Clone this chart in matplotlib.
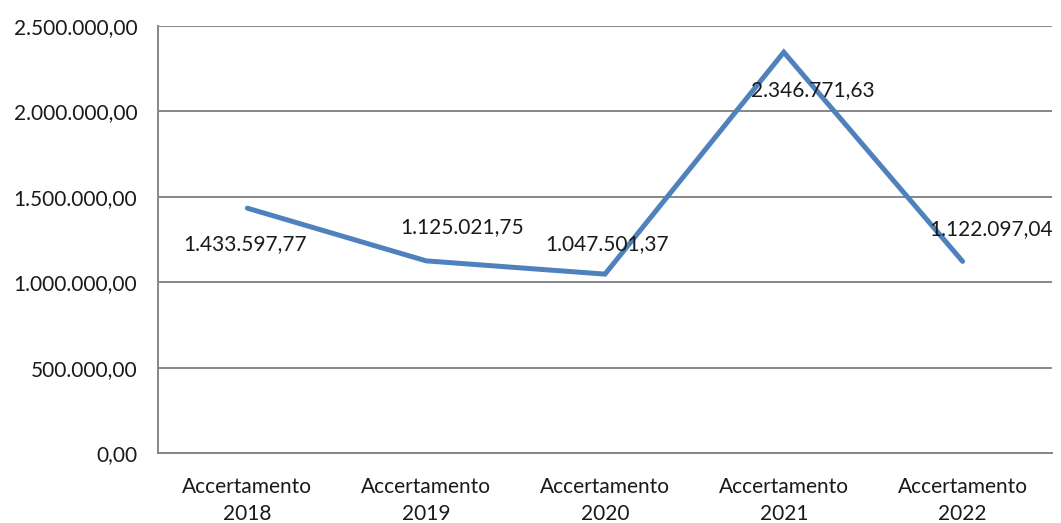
import matplotlib.pyplot as plt
from matplotlib.ticker import FuncFormatter

categories = ['Accertamento\n2018', 'Accertamento\n2019', 'Accertamento\n2020',
              'Accertamento\n2021', 'Accertamento\n2022']
values = [1433597.77, 1125021.75, 1047501.37, 2346771.63, 1122097.04]
# where each value label sits relative to its point (pixels)
label_offsets = [(-2, -36), (36, 34), (2, 30), (29, -38), (28, 32)]


def it_format(v, pos=None):
    s = f'{v:,.2f}'
    return s.replace(',', 'X').replace('.', ',').replace('X', '.')


plt.rcParams['font.family'] = ['Lato', 'DejaVu Sans']

fig = plt.figure(figsize=(10.61, 5.23), dpi=100)
ax = fig.add_axes([0.1489, 0.1338, 0.8426, 0.8164])

x = list(range(len(categories)))
ax.plot(x, values, color='#4F81BD', linewidth=3.6, solid_capstyle='round',
        solid_joinstyle='miter', zorder=3)

for xi, v, (dx, dy) in zip(x, values, label_offsets):
    ax.annotate(it_format(v), (xi, v), xytext=(dx, dy), textcoords='offset pixels',
                ha='center', va='center', fontsize=15, color='#1a1a1a', zorder=4)

ax.set_xlim(-0.5, len(categories) - 0.5)
ax.set_ylim(0, 2500000)
ax.set_yticks([0, 500000, 1000000, 1500000, 2000000, 2500000])
ax.yaxis.set_major_formatter(FuncFormatter(it_format))
ax.set_xticks(x)
ax.set_xticklabels(categories, linespacing=1.45)
ax.grid(axis='y', color='#868686', linewidth=1.4)
ax.set_axisbelow(True)
ax.tick_params(axis='y', length=0, pad=15, labelsize=15, labelcolor='#1a1a1a')
ax.tick_params(axis='x', length=0, pad=17, labelsize=15, labelcolor='#1a1a1a')

for side in ['top', 'right']:
    ax.spines[side].set_visible(False)
for side in ['left', 'bottom']:
    ax.spines[side].set_color('#868686')
    ax.spines[side].set_linewidth(1.4)

fig.savefig('out.png', dpi=100)
